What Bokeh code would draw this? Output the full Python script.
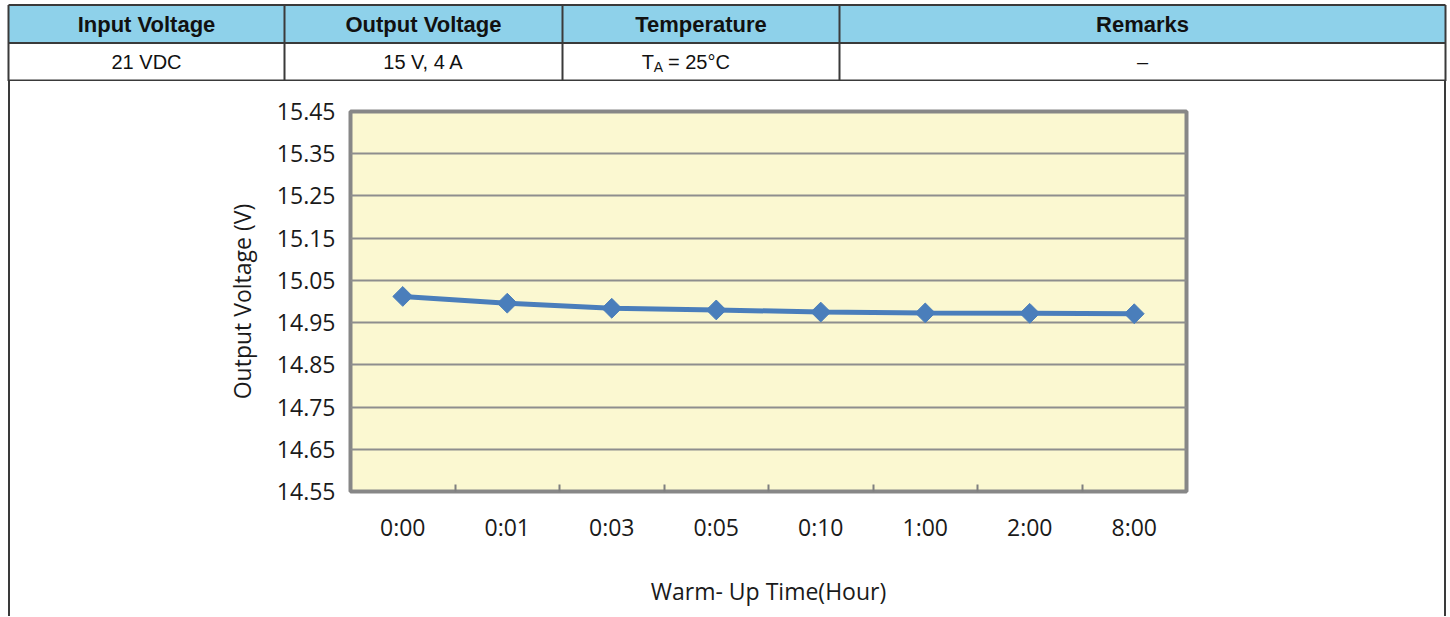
import numpy as np
from bokeh.plotting import figure
from bokeh.models import Range1d, FixedTicker, PrintfTickFormatter
from bokeh.core.properties import value
from bokeh.embed import file_html
from bokeh.resources import INLINE

# ---------------- data ----------------
times = ["0:00", "0:01", "0:03", "0:05", "0:10", "1:00", "2:00", "8:00"]
voltage = [15.012, 14.996, 14.984, 14.980, 14.975, 14.973, 14.972, 14.971]
y_ticks = [14.55, 14.65, 14.75, 14.85, 14.95, 15.05, 15.15, 15.25, 15.35, 15.45]

headers = ["Input Voltage", "Output Voltage", "Temperature", "Remarks"]
row_values = ["21 VDC", "15 V, 4 A", "", "\u2013"]
temp_parts = ["T", "A", "= 25\u00b0C"]   # T with subscript A

x_title = "Warm- Up Time(Hour)"
y_title = "Output Voltage (V)"

# ---------------- layout constants (page pixels) ----------------
TW = 1447
TABLE_H = 81
col_edges = [8, 284, 562, 839, 1445]
TOP_LINE = 76.5
HDR_LINE = 38.5
BOT_LINE = 1
HEADER_BG = "#8ED1EA"
BORDER = "#3a3a3a"

# ---------------- table figure ----------------
tp = figure(width=TW, height=TABLE_H, x_range=Range1d(0, TW), y_range=Range1d(0, TABLE_H),
            min_border=0, toolbar_location=None, output_backend="svg")
tp.axis.visible = False
tp.grid.visible = False
tp.outline_line_color = None
tp.background_fill_color = "white"
tp.border_fill_color = "white"

lefts = col_edges[:-1]
rights = col_edges[1:]
centers = [(a + b) / 2 for a, b in zip(lefts, rights)]
tp.quad(left=lefts, right=rights, top=TOP_LINE, bottom=HDR_LINE,
        fill_color=HEADER_BG, line_color=None)

hy = [TOP_LINE, HDR_LINE, BOT_LINE]
tp.segment(x0=[col_edges[0]] * 3, x1=[col_edges[-1]] * 3, y0=hy, y1=hy,
           line_color=BORDER, line_width=2)
tp.segment(x0=col_edges, x1=col_edges, y0=[0] * len(col_edges), y1=[TOP_LINE] * len(col_edges),
           line_color=BORDER, line_width=2)

hdr_y = (TOP_LINE + HDR_LINE) / 2
row_y = (HDR_LINE + BOT_LINE) / 2
tp.text(x=centers, y=[hdr_y] * 4, text=headers, text_align="center", text_baseline="middle",
        text_font=value("Liberation Sans"), text_font_style="bold", text_font_size="22px",
        text_color="#111111")
tp.text(x=centers, y=[row_y] * 4, text=row_values, text_align="center", text_baseline="middle",
        text_font=value("Liberation Sans"), text_font_size="20px", text_color="#111111")
# Temperature cell: T_A = 25°C
tc = centers[2]
tp.text(x=[tc], y=[row_y], text=[temp_parts[0]], text_align="right", text_baseline="middle",
        x_offset=-47, text_font=value("Liberation Sans"), text_font_size="20px", text_color="#111111")
tp.text(x=[tc], y=[row_y], text=[temp_parts[1]], text_align="right", text_baseline="middle",
        x_offset=-38, y_offset=5, text_font=value("Liberation Sans"), text_font_size="14px",
        text_color="#111111")
tp.text(x=[tc], y=[row_y], text=[temp_parts[2]], text_align="left", text_baseline="middle",
        x_offset=-33, text_font=value("Liberation Sans"), text_font_size="20px", text_color="#111111")

# ---------------- chart figure ----------------
n = len(times)
xs = [i + 0.5 for i in range(n)]

cp = figure(width=1438, height=535, x_range=Range1d(0, n), y_range=Range1d(y_ticks[0], y_ticks[-1]),
            min_border_left=340, min_border_right=262, min_border_top=30, min_border_bottom=125,
            toolbar_location=None, output_backend="svg",
            styles={"margin-left": "8px", "border-left": "2px solid #3a3a3a",
                    "border-right": "2px solid #3a3a3a", "box-sizing": "border-box"})
cp.background_fill_color = "#FBF8D1"
cp.border_fill_color = "white"
cp.outline_line_color = "#878787"
cp.outline_line_width = 4

cp.xgrid.visible = False
cp.ygrid.ticker = FixedTicker(ticks=y_ticks)
cp.ygrid.grid_line_color = "#8e8e8e"
cp.ygrid.grid_line_width = 2

# y axis
ya = cp.yaxis[0]
ya.ticker = FixedTicker(ticks=y_ticks)
ya.formatter = PrintfTickFormatter(format="%.2f")
ya.axis_line_color = None
ya.major_tick_line_color = None
ya.minor_tick_line_color = None
ya.major_label_standoff = 9
ya.major_label_text_font = "Open Sans"
ya.major_label_text_font_size = "23px"
ya.major_label_text_color = "#1a1a1a"
ya.axis_label = y_title
ya.axis_label_standoff = 16
ya.axis_label_text_font = "Open Sans"
ya.axis_label_text_font_size = "23px"
ya.axis_label_text_font_style = "normal"
ya.axis_label_text_color = "#1a1a1a"

# x axis: labels at category centres, tick marks at category boundaries
xa = cp.xaxis[0]
xa.ticker = FixedTicker(ticks=xs, minor_ticks=list(range(1, n)))
xa.major_label_overrides = {x: t for x, t in zip(xs, times)}
xa.axis_line_color = None
xa.major_tick_line_color = None
xa.minor_tick_in = 7
xa.minor_tick_out = 0
xa.minor_tick_line_color = "#7f7f7f"
xa.minor_tick_line_width = 2
xa.major_label_standoff = 13
xa.major_label_text_font = "Open Sans"
xa.major_label_text_font_size = "23px"
xa.major_label_text_color = "#1a1a1a"
xa.axis_label = x_title
xa.axis_label_standoff = 29
xa.axis_label_text_font = "Open Sans"
xa.axis_label_text_font_size = "23px"
xa.axis_label_text_font_style = "normal"
xa.axis_label_text_color = "#1a1a1a"

cp.line(xs, voltage, line_color="#4A7EBB", line_width=5)
cp.scatter(xs, voltage, marker="square", angle=np.pi / 4, size=14,
           fill_color="#4A7EBB", line_color="#4A7EBB")

open("out.html", "w").write(file_html([tp, cp], INLINE))
